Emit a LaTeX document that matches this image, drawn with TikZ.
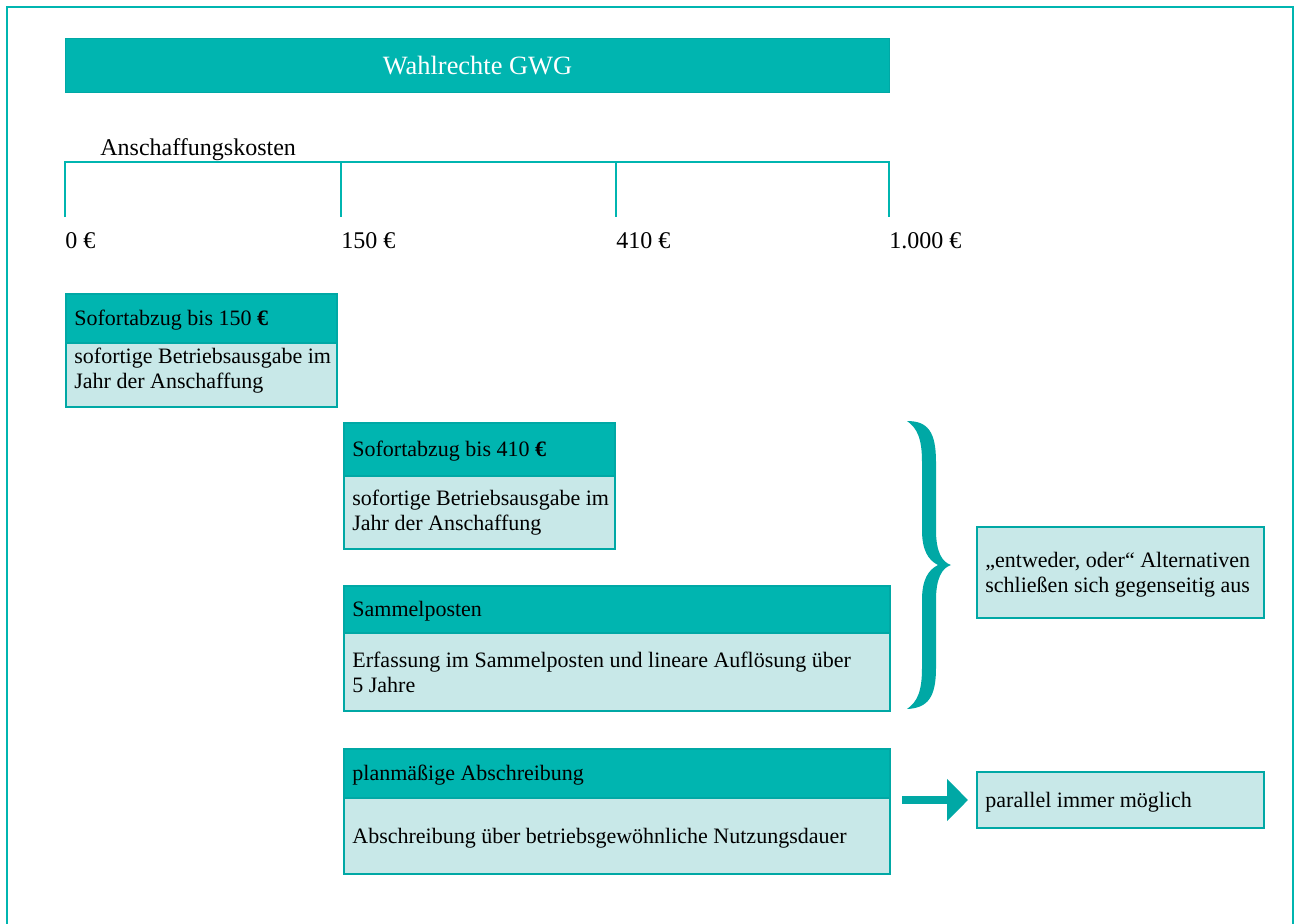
\documentclass[tikz,border=0pt]{standalone}
\usepackage{fontspec}
\setmainfont{Liberation Serif}
\usetikzlibrary{arrows.meta}
\definecolor{tealA}{RGB}{0,181,176}
\definecolor{tealB}{RGB}{0,168,165}
\definecolor{lightT}{RGB}{200,232,232}
\begin{document}
\begin{tikzpicture}[x=0.5pt,y=-0.5pt,
  hdrbox/.style={draw=tealB, fill=tealA, line width=1pt, anchor=north west, inner sep=0pt},
  bdybox/.style={draw=tealB, fill=lightT, line width=1pt, anchor=north west, inner sep=0pt},
  txt/.style={anchor=base west, inner sep=0pt, font=\fontsize{11}{13}\selectfont, text=black},
  axtxt/.style={anchor=base west, inner sep=0pt, font=\fontsize{12}{14}\selectfont, text=black},
  axline/.style={draw=tealA, line width=1pt},
  bigarrow/.style={draw=tealB, line width=4pt, line cap=butt, -{Triangle[length=10.5pt,width=20.5pt]}}
]
\useasboundingbox (0,0) rectangle (1296,923);
\clip (0,0) rectangle (1296,923);
\fill[white] (0,0) rectangle (1296,923);
% outer frame
\draw[tealA, line width=1pt] (7,930) -- (7,7) -- (1293,7) -- (1293,930);
% title
\node[draw=tealB, fill=tealA, line width=0.5pt, minimum width=412pt, minimum height=27pt, anchor=north west, inner sep=0pt] (title) at (65,38) {};
\node[text=white, font=\fontsize{13.2}{15}\selectfont, inner sep=0pt] (titletxt) at (title.center) {Wahlrechte GWG};
% axis
\node[axtxt] (ak) at (100,155) {Anschaffungskosten};
\coordinate (a0) at (65,162);
\coordinate (a1) at (341,162);
\coordinate (a2) at (616,162);
\coordinate (a3) at (889,162);
\draw[axline] ([yshift=-27.5pt]a0) -- (a0) -- (a3) -- ([yshift=-27.5pt]a3);
\draw[axline] (a1) -- ([yshift=-27.5pt]a1);
\draw[axline] (a2) -- ([yshift=-27.5pt]a2);
\node[axtxt] (l0) at (65,248) {0 €};
\node[axtxt] (l1) at (341,248) {150 €};
\node[axtxt] (l2) at (616,248) {410 €};
\node[axtxt] (l3) at (889,248) {1.000 €};
% box 1
\node[hdrbox, minimum width=135.5pt, minimum height=24.5pt] (h1) at (65,293) {};
\node[bdybox, minimum width=135.5pt, minimum height=32pt] (b1) at (65,342) {};
\node[txt] (h1t) at (74,325) {Sofortabzug bis 150 \textbf{€}};
\node[txt] (b1t1) at (74,363) {sofortige Betriebsausgabe im};
\node[txt] (b1t2) at (74,388) {Jahr der Anschaffung};
% box 2
\node[hdrbox, minimum width=135.5pt, minimum height=26.5pt] (h2) at (343,422) {};
\node[bdybox, minimum width=135.5pt, minimum height=36.5pt] (b2) at (343,475) {};
\node[txt] (h2t) at (352,456) {Sofortabzug bis 410 \textbf{€}};
\node[txt] (b2t1) at (352,505) {sofortige Betriebsausgabe im};
\node[txt] (b2t2) at (352,530) {Jahr der Anschaffung};
% box 3
\node[hdrbox, minimum width=273pt, minimum height=23.5pt] (h3) at (343,585) {};
\node[bdybox, minimum width=273pt, minimum height=39pt] (b3) at (343,632) {};
\node[txt] (h3t) at (352,616) {Sammelposten};
\node[txt] (b3t1) at (352,667) {Erfassung im Sammelposten und lineare Auflösung über};
\node[txt] (b3t2) at (352,692) {5 Jahre};
% box 4
\node[hdrbox, minimum width=273pt, minimum height=24.5pt] (h4) at (343,748) {};
\node[bdybox, minimum width=273pt, minimum height=38pt] (b4) at (343,797) {};
\node[txt] (h4t) at (352,780) {planmäßige Abschreibung};
\node[txt] (b4t) at (352,843) {Abschreibung über betriebsgewöhnliche Nutzungsdauer};
% right boxes
\node[bdybox, minimum width=143.5pt, minimum height=45.5pt] (p5) at (976,526) {};
\node[txt] (p5t1) at (985,567) {„entweder, oder“ Alternativen};
\node[txt] (p5t2) at (985,592) {schließen sich gegenseitig aus};
\node[bdybox, minimum width=143.5pt, minimum height=28pt] (p6) at (976,771) {};
\node[txt] (p6t) at (985,807) {parallel immer möglich};
% brace
\fill[tealB] (907,421) .. controls (928,421) and (936,432) .. (936,462) -- (936,530)
  .. controls (936,552) and (942,562) .. (951,565)
  .. controls (942,568) and (936,578) .. (936,600) -- (936,668)
  .. controls (936,697) and (928,708) .. (907,709)
  .. controls (917,702) and (922,692) .. (922,668) -- (922,600)
  .. controls (922,580) and (928,570) .. (938,565)
  .. controls (928,560) and (922,550) .. (922,530) -- (922,462)
  .. controls (922,438) and (917,428) .. (907,421) -- cycle;
% arrow
\draw[bigarrow, shorten <=5.5pt, shorten >=4pt] (b4.east |- p6.west) -- (p6.west);
\end{tikzpicture}
\end{document}
